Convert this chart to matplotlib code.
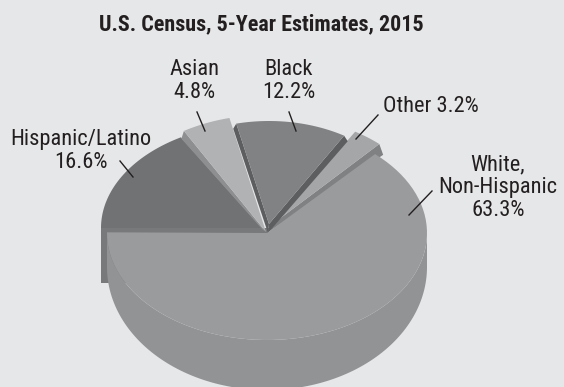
import numpy as np
import matplotlib.pyplot as plt
from matplotlib import font_manager
from matplotlib.patches import Polygon, Rectangle

# Census shares in percent, starting at the left edge and running clockwise
categories = ['Hispanic/Latino', 'Asian', 'Black', 'Other', 'White']
shares = [16.6, 4.8, 12.2, 3.2, 63.3]

BG = '#e6e7e8'
names = {f.name for f in font_manager.fontManager.ttflist}
FONT = 'Lato'
for cand in ['Liberation Sans Narrow', 'Roboto Condensed', 'Open Sans Condensed', 'Lato']:
    if cand in names:
        FONT = cand
        break


def rim_point(cx, cy, rx, ry, a):
    t = np.radians(a)
    return cx + rx * np.cos(t), cy - ry * np.sin(t)


def add_wedge(ax, cx, cy, rx, ry, a0, a1, color):
    t = np.linspace(a0, a1, 80)
    xs, ys = rim_point(cx, cy, rx, ry, t)
    pts = np.column_stack([np.r_[cx, xs], np.r_[cy, ys]])
    ax.add_patch(Polygon(pts, closed=True, fc=color, ec='none'))


# cut face of a slice: joins the top ellipse to a lower one along one radius
def add_face(ax, top, low, a, color):
    pts = [top[:2], rim_point(*top, a), rim_point(*low, a), low[:2]]
    ax.add_patch(Polygon(pts, closed=True, fc=color, ec='none'))


# turn shares into angle ranges, going clockwise from 180 degrees
ends = 180 - np.cumsum(shares) * 3.6
starts = np.r_[180, ends[:-1]]
angles = {c: (e, s) for c, s, e in zip(categories, starts, ends)}

fig = plt.figure(figsize=(5.64, 3.87), dpi=100, facecolor=BG)
ax = fig.add_axes([0, 0, 1, 1])
ax.set_xlim(0, 564)
ax.set_ylim(387, 0)
ax.axis('off')

# Hispanic/Latino: pulled out to the upper left, with its cut face showing
a0, a1 = angles['Hispanic/Latino']
ax.add_patch(Rectangle((101, 228), 168, 55, fc='#78797b', ec='none'))
add_wedge(ax, 262, 228, 161, 105, a0, a1, '#717274')

# Asian
a0, a1 = angles['Asian']
top = (266, 232, 163, 117)
add_face(ax, top, (262, 229, 160, 104.5), a1, '#8e8f91')
add_wedge(ax, *top, a0, a1, '#b1b2b4')

# Other
a0, a1 = angles['Other']
top = (278, 220, 150, 103)
add_face(ax, top, (267, 233, 172, 106), a0, '#808183')
add_wedge(ax, *top, a0, a1, '#a5a6a8')

# Black
a0, a1 = angles['Black']
top = (269, 224, 146, 103)
low = (268, 233, 155, 107)
add_face(ax, top, low, a0, '#5d5e60')
add_face(ax, top, low, a1, '#5d5e60')
add_wedge(ax, *top, a0, a1, '#818284')

# White: the large slice with a visible outer wall below its top face
a0, a1 = angles['White']
t = np.radians(np.linspace(180, 360, 120))
top_arc = np.column_stack([267 + 160 * np.cos(t), 233 - 107 * np.sin(t)])
low_arc = np.column_stack([267 + 160 * np.cos(t), 267 - 123 * np.sin(t)])
ax.add_patch(Polygon(np.vstack([top_arc, low_arc[::-1]]), closed=True, fc='#929395', ec='none'))
add_wedge(ax, 267, 233, 160, 107, a0, a1, '#9a9b9d')

# title, labels and leader lines
txt = dict(family=FONT, color='#231f20', ha='center', va='center', fontsize=16.1, linespacing=1.12)
ax.text(261, 24, 'U.S. Census, 5-Year Estimates, 2015', fontweight='bold', **{**txt, 'fontsize': 15.8})
ax.text(81, 151, 'Hispanic/Latino\n16.6%', **txt)
ax.text(194, 81, 'Asian\n4.8%', **txt)
ax.text(289, 81, 'Black\n12.2%', **txt)
ax.text(431, 107, 'Other 3.2%', **txt)
ax.text(498, 188, 'White,\nNon-Hispanic\n63.3%', **txt)

leaders = [((120, 161), (133, 177)), ((197, 112), (205, 131)), ((289, 112), (296, 131)),
           ((378, 115), (356, 139)), ((432, 191), (409, 215))]
for p, q in leaders:
    ax.plot([p[0], q[0]], [p[1], q[1]], color='#231f20', lw=1.0)

fig.savefig('out.png', dpi=100, facecolor=BG)
